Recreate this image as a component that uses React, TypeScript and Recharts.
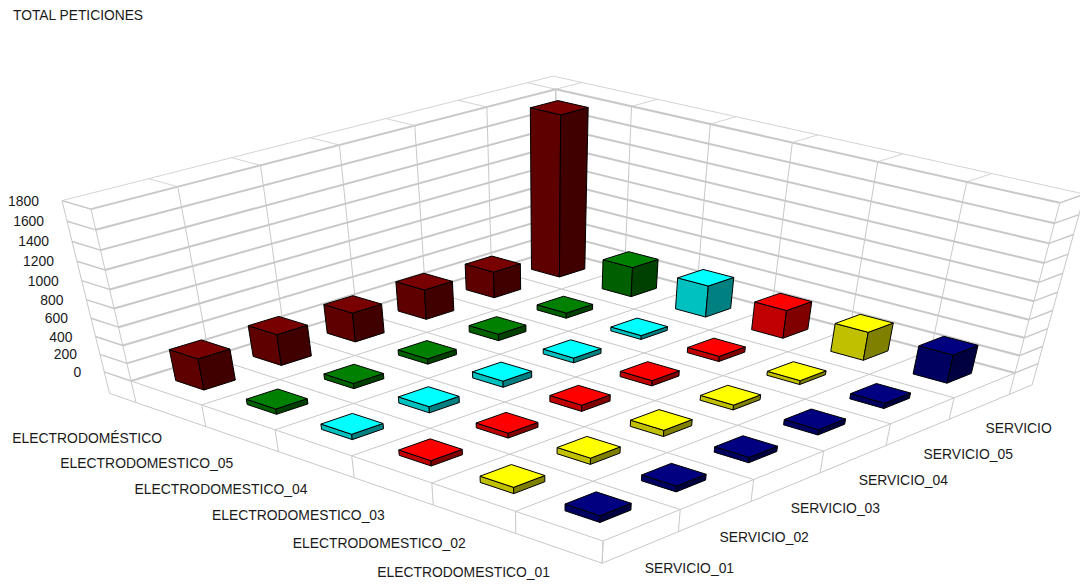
import React from 'react';
import { ScatterChart, Scatter, XAxis, YAxis, ReferenceLine } from 'recharts';

const WIDTH = 1080;
const HEIGHT = 584;
const FONT = '"Liberation Sans", Arial, sans-serif';

// rows run from the left corner towards the front corner
const appliances = ['ELECTRODOMÉSTICO', 'ELECTRODOMESTICO_05', 'ELECTRODOMESTICO_04', 'ELECTRODOMESTICO_03', 'ELECTRODOMESTICO_02', 'ELECTRODOMESTICO_01'];
// columns run from the front corner towards the right corner
const services = ['SERVICIO_01', 'SERVICIO_02', 'SERVICIO_03', 'SERVICIO_04', 'SERVICIO_05', 'SERVICIO'];
const valueTicks = [0, 200, 400, 600, 800, 1000, 1200, 1400, 1600, 1800];

const totals = [350, 350, 330, 340, 300, 1790];
const row05 = [60, 60, 60, 75, 60, 340];
const row04 = [60, 70, 70, 55, 45, 360];
const row03 = [60, 55, 70, 60, 60, 320];
const row02 = [70, 70, 70, 55, 45, 320];
const row01 = [75, 65, 60, 60, 60, 320];
const rows = [totals, row05, row04, row03, row02, row01];

// top, left and right face of each row's boxes
const rowColors = [
  ['#780000', '#5e0000', '#400000'],
  ['#008000', '#006000', '#004000'],
  ['#00ffff', '#00c0c0', '#008080'],
  ['#ff0000', '#c00000', '#800000'],
  ['#ffff00', '#c0c000', '#808000'],
  ['#000080', '#000060', '#000040'],
];

// camera: the floor quad on screen, and where the uprights converge
const L = [131, 381];
const F = [603, 541];
const R = [1015, 373];
const B = [555, 250];
const VANISH = [545, 2158];
const LIFT = 0.0882;
const MAX_VALUE = 1800;
const WALL = 0.065;
const SLAB = -250;
const BOX = 0.2 / 6;

const sx = L[0] - F[0] + R[0] - B[0];
const sy = L[1] - F[1] + R[1] - B[1];
const dx1 = F[0] - R[0];
const dx2 = B[0] - R[0];
const dy1 = F[1] - R[1];
const dy2 = B[1] - R[1];
const det = dx1 * dy2 - dx2 * dy1;
const g = (sx * dy2 - dx2 * sy) / det;
const h = (dx1 * sy - sx * dy1) / det;

function project(p: number, q: number, value: number) {
  const z = (LIFT * value) / MAX_VALUE;
  const w = 1 + g * p + h * q - z;
  const x = L[0] + (F[0] - L[0] + g * F[0]) * p + (B[0] - L[0] + h * B[0]) * q - z * VANISH[0];
  const y = L[1] + (F[1] - L[1] + g * F[1]) * p + (B[1] - L[1] + h * B[1]) * q - z * VANISH[1];
  return { x: x / w, y: y / w };
}

type Seg = { a: number[]; b: number[]; width: number; color: string };
const segments: Seg[] = [];
const GRID = '#c8c8c8';
function seg(a: number[], b: number[], width = 1, color = GRID) {
  segments.push({ a, b, width, color });
}

const steps = [0, 1, 2, 3, 4, 5, 6];
steps.forEach((k) => {
  const f = k / 6;
  // floor
  seg([f, 0, 0], [f, 1, 0]);
  seg([0, f, 0], [1, f, 0]);
  // uprights on the walls
  seg([0, f, 0], [0, f, MAX_VALUE]);
  seg([f, 1, 0], [f, 1, MAX_VALUE]);
  // wall tops
  seg([0, f, MAX_VALUE], [-WALL, f, MAX_VALUE], 1, '#d4d4d4');
  seg([f, 1, MAX_VALUE], [f, 1 + WALL, MAX_VALUE], 1, '#d4d4d4');
  // floor slab
  seg([f, 0, 0], [f, 0, SLAB]);
  seg([1, f, 0], [1, f, SLAB]);
});
seg([-WALL, 0, SLAB], [1, 0, SLAB]);
seg([1, 0, SLAB], [1, 1 + WALL, SLAB]);
seg([-WALL, 0, MAX_VALUE], [-WALL, 0, SLAB]);
seg([1, 1 + WALL, MAX_VALUE], [1, 1 + WALL, SLAB]);
seg([-WALL, 0, MAX_VALUE], [-WALL, 1 + WALL, MAX_VALUE], 1, '#d4d4d4');
seg([-WALL, 1 + WALL, MAX_VALUE], [1, 1 + WALL, MAX_VALUE], 1, '#d4d4d4');
valueTicks.forEach((v) => {
  seg([0, 0, v], [0, 1, v], 2);
  seg([0, 1, v], [1, 1, v], 2);
  seg([-WALL, 0, v], [0, 0, v], 1.4);
  seg([1, 1, v], [1, 1 + WALL, v], 1.4);
});

// one table per row, back of the floor drawn first
const rowTables = rows.map((values, i) =>
  values
    .map((value, k) => {
      const p = (i + 0.5) / 6;
      const q = (k + 0.5) / 6;
      const base = project(p, q, 0);
      return { sx: base.x, sy: base.y, p, q, value, row: i, service: services[k] };
    })
    .reverse(),
);

const tickTable = valueTicks.map((v) => {
  const pt = project(-WALL, 0, v);
  return { sx: pt.x - 23, sy: pt.y, label: String(v), anchor: 'end' };
});
const applianceTable = appliances.map((label, i) => {
  const pt = project((i + 0.5) / 6, 0, SLAB);
  return { sx: pt.x - 8.5, sy: pt.y + 24, label, anchor: 'end' };
});
const serviceTable = services.map((label, k) => {
  const pt = project(1, (k + 0.5) / 6, SLAB);
  return { sx: pt.x + 4 + 0.4 * k, sy: pt.y + 21 + 0.1 * k, label, anchor: 'start' };
});
const labelTable = [...tickTable, ...applianceTable, ...serviceTable];

function BarBox(props: any) {
  const { cx, cy, payload } = props;
  const { p, q, value, row, sx: bx, sy: by } = payload;
  const [top, left, right] = rowColors[row];
  const toPts = (corners: number[][]) =>
    corners
      .map(([cp, cq, v]) => {
        const pt = project(cp, cq, v);
        return `${cx + pt.x - bx},${cy + pt.y - by}`;
      })
      .join(' ');
  const a = BOX;
  const edge = { stroke: '#000', strokeWidth: 1, strokeLinejoin: 'round' as const };
  return (
    <g>
      <polygon
        points={toPts([[p - a, q - a, 0], [p + a, q - a, 0], [p + a, q - a, value], [p - a, q - a, value]])}
        fill={left}
        {...edge}
      />
      <polygon
        points={toPts([[p + a, q - a, 0], [p + a, q + a, 0], [p + a, q + a, value], [p + a, q - a, value]])}
        fill={right}
        {...edge}
      />
      <polygon
        points={toPts([[p - a, q - a, value], [p + a, q - a, value], [p + a, q + a, value], [p - a, q + a, value]])}
        fill={top}
        {...edge}
      />
    </g>
  );
}

function LabelText(props: any) {
  const { cx, cy, payload } = props;
  return (
    <text x={cx} y={cy} textAnchor={payload.anchor} dominantBaseline="central" fontFamily={FONT} fontSize={13.9} fill="#1a1a1a">
      {payload.label}
    </text>
  );
}

export default function App() {
  return (
    <div style={{ position: 'absolute', left: 0, top: 0, width: WIDTH, height: HEIGHT, background: '#fff' }}>
      <div style={{ position: 'absolute', left: 13, top: 8, fontFamily: FONT, fontSize: 13.8, color: '#1a1a1a', whiteSpace: 'nowrap' }}>
        TOTAL PETICIONES
      </div>
      <ScatterChart width={WIDTH} height={HEIGHT} margin={{ top: 0, right: 0, bottom: 0, left: 0 }}>
        <XAxis type="number" dataKey="sx" domain={[0, WIDTH]} allowDataOverflow hide />
        <YAxis type="number" dataKey="sy" domain={[0, HEIGHT]} reversed allowDataOverflow hide />
        {segments.map((s, i) => {
          const a = project(s.a[0], s.a[1], s.a[2]);
          const b = project(s.b[0], s.b[1], s.b[2]);
          return (
            <ReferenceLine
              key={i}
              segment={[{ x: a.x, y: a.y }, { x: b.x, y: b.y }]}
              stroke={s.color}
              strokeWidth={s.width}
              ifOverflow="visible"
            />
          );
        })}
        {rowTables.map((table, i) => (
          <Scatter key={appliances[i]} name={appliances[i]} data={table} shape={BarBox} isAnimationActive={false} />
        ))}
        <Scatter data={labelTable} shape={LabelText} isAnimationActive={false} />
      </ScatterChart>
    </div>
  );
}
